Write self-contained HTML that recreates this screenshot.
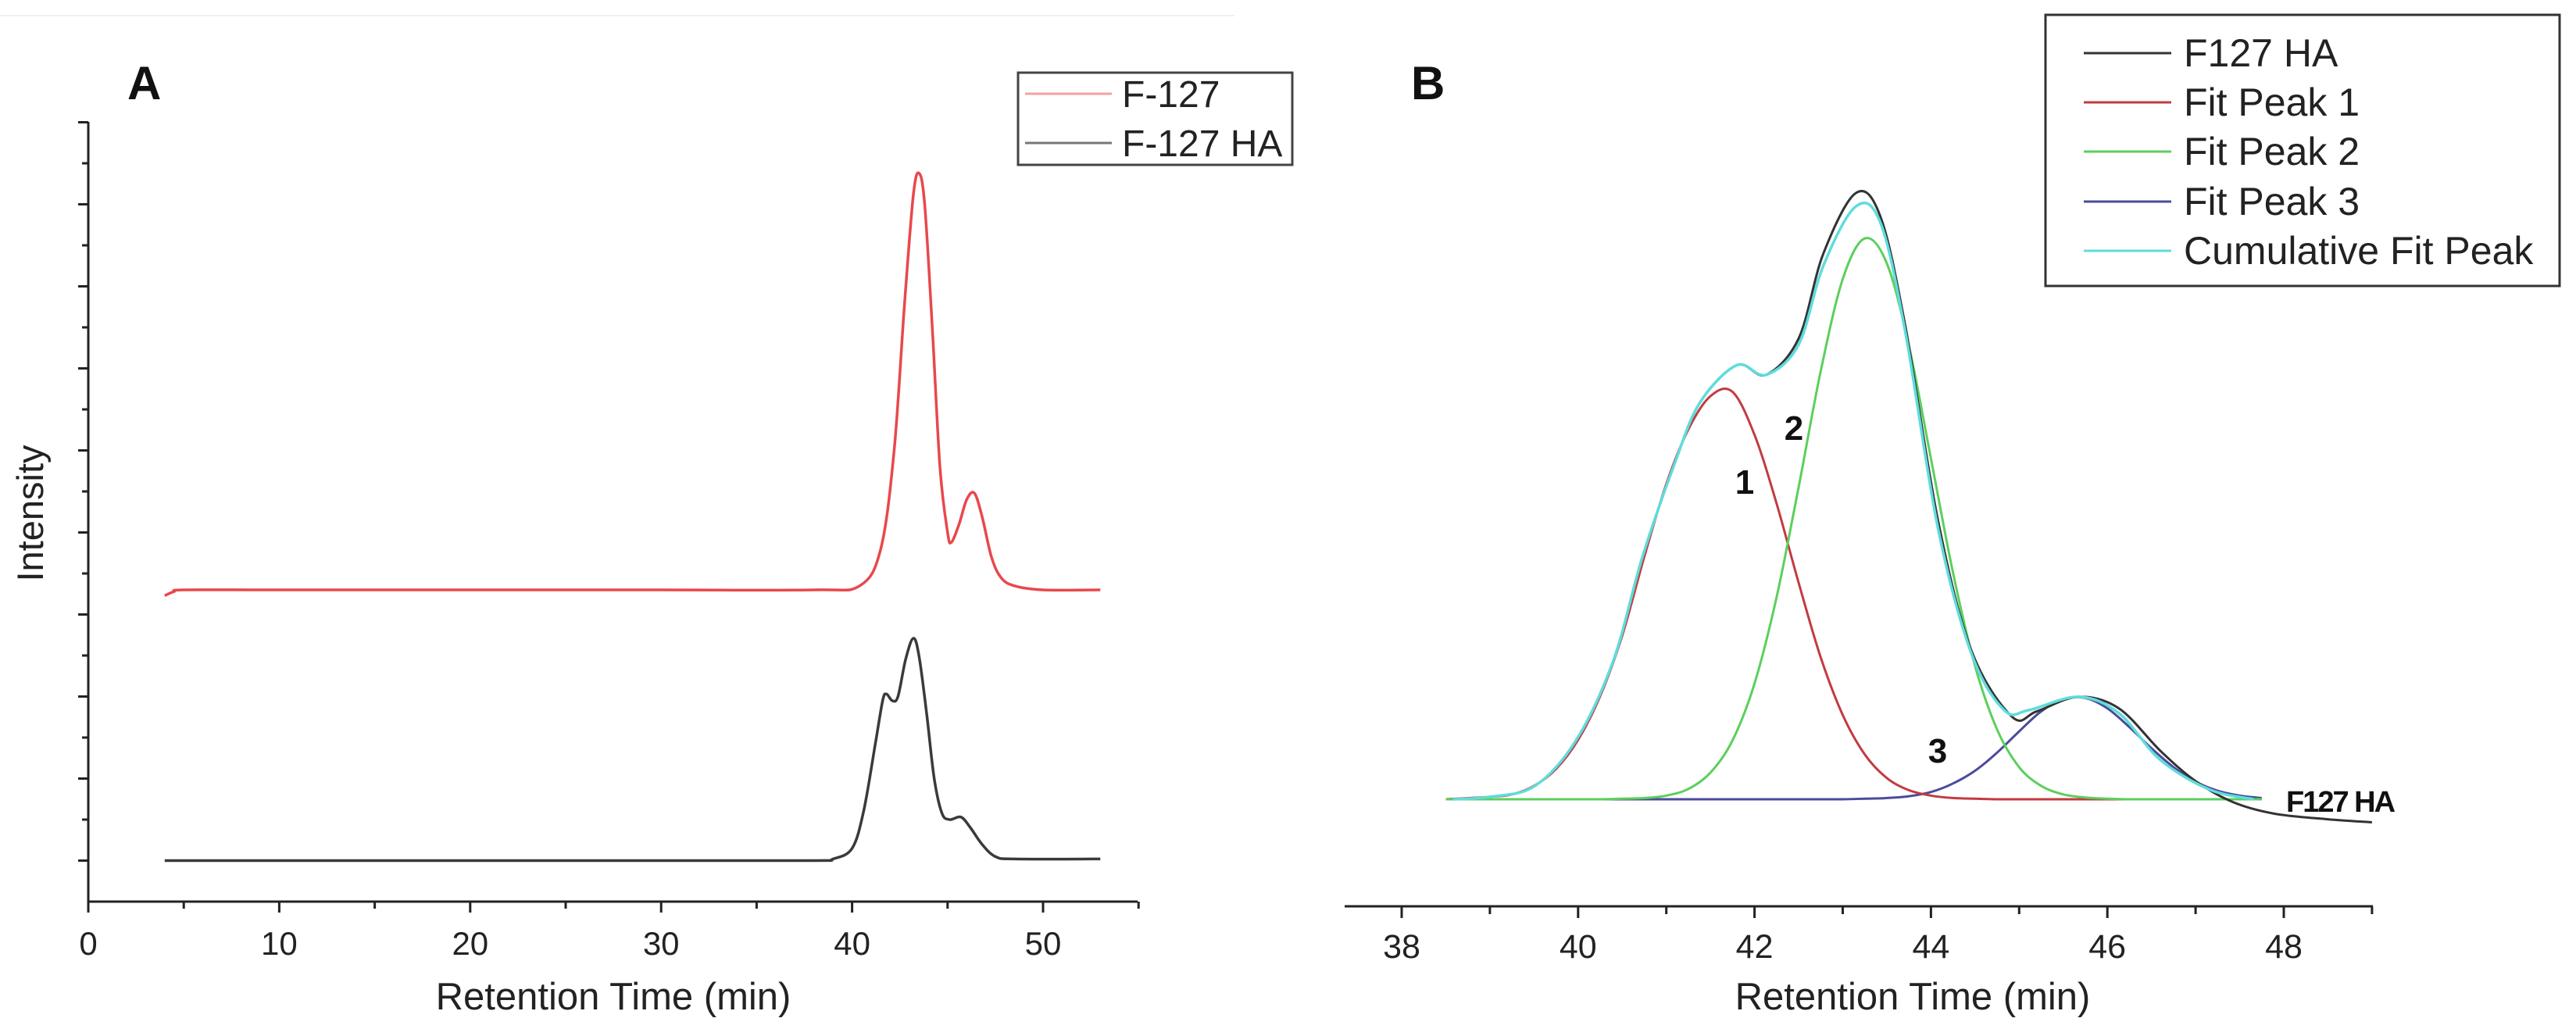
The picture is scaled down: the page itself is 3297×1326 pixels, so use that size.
<!DOCTYPE html>
<html><head><meta charset="utf-8"><style>
html,body{margin:0;padding:0;background:#fff;}
svg{display:block;font-family:"Liberation Sans",Arial,sans-serif;}
</style></head><body>
<svg id="fig" width="3297" height="1326" viewBox="0 0 3297 1326" xmlns="http://www.w3.org/2000/svg">
<rect x="0" y="0" width="3297" height="1326" fill="#fff"/>
<line x1="0" y1="20" x2="1580" y2="20" stroke="#f0f0f0" stroke-width="2"/>
<g id="panelA"></g>
<g id="panelB"></g>
</svg>
<script>
// ---------- Panel A data ----------
const aXTicks = [0, 10, 20, 30, 40, 50];
const aF127X = [4, 4.5, 5, 10, 20, 30, 38, 40.4, 41.5, 42.2, 42.75, 43.2, 43.5, 43.8, 44.2, 44.6, 45.0, 45.2, 45.6, 46.0, 46.4, 46.8, 47.3, 47.8, 48.5, 50, 53];
const aF127Y = [3.73, 3.78, 3.8, 3.8, 3.8, 3.8, 3.8, 3.85, 4.3, 5.5, 7.3, 8.6, 8.88, 8.5, 7.0, 5.3, 4.5, 4.38, 4.6, 4.9, 4.98, 4.7, 4.2, 3.95, 3.85, 3.8, 3.8];
const aHAX = [4, 10, 20, 30, 38, 39, 40, 40.6, 41.2, 41.6, 41.8, 42.1, 42.4, 42.8, 43.2, 43.5, 43.9, 44.3, 44.7, 45.1, 45.7, 46.2, 46.8, 47.5, 48.5, 53];
const aHAY = [0.5, 0.5, 0.5, 0.5, 0.5, 0.52, 0.65, 1.1, 1.9, 2.45, 2.53, 2.45, 2.5, 2.95, 3.21, 3.0, 2.3, 1.5, 1.08, 1.0, 1.03, 0.9, 0.7, 0.55, 0.52, 0.52];

// ---------- Panel B data ----------
const bXTicks = [38, 40, 42, 44, 46, 48];
const bFitX = [38.5, 39, 39.25, 39.5, 39.75, 40, 40.25, 40.5, 40.75, 41, 41.25, 41.5, 41.75, 42, 42.25, 42.5, 42.75, 43, 43.25, 43.5, 43.75, 44, 44.25, 44.5, 44.75, 45, 45.25, 45.5, 45.75, 46, 46.25, 46.5, 46.75, 47, 47.25, 47.5, 47.75];
const bPeak1 = [0, 0.004, 0.008, 0.022, 0.05, 0.098, 0.17, 0.27, 0.40, 0.52, 0.61, 0.665, 0.672, 0.601, 0.488, 0.357, 0.234, 0.139, 0.074, 0.035, 0.015, 0.006, 0.002, 0.001, 0, 0, 0, 0, 0, 0, 0, 0, 0, 0, 0, 0, 0];
const bPeak2 = [0, 0, 0, 0, 0, 0, 0, 0.001, 0.002, 0.006, 0.017, 0.044, 0.097, 0.191, 0.333, 0.515, 0.706, 0.858, 0.925, 0.884, 0.748, 0.562, 0.374, 0.22, 0.115, 0.053, 0.022, 0.008, 0.003, 0.001, 0, 0, 0, 0, 0, 0, 0];
const bPeak3 = [0, 0, 0, 0, 0, 0, 0, 0, 0, 0, 0, 0, 0, 0, 0, 0, 0, 0, 0.001, 0.002, 0.005, 0.012, 0.026, 0.047, 0.077, 0.112, 0.145, 0.165, 0.167, 0.15, 0.119, 0.084, 0.053, 0.029, 0.014, 0.006, 0.002];
const bCumX = [38.58, 39.0, 39.51, 39.98, 40.4, 40.73, 41.1, 41.38, 41.8, 42.13, 42.5, 42.78, 43.15, 43.43, 43.71, 44.08, 44.46, 44.83, 45.11, 45.67, 46.13, 46.6, 47.16, 47.66];
const bCumY = [0, 0.004, 0.022, 0.098, 0.229, 0.40, 0.556, 0.654, 0.716, 0.70, 0.75, 0.88, 0.978, 0.95, 0.77, 0.447, 0.24, 0.147, 0.147, 0.169, 0.142, 0.065, 0.016, 0];
const bHAX = [38.58, 39.0, 39.51, 39.98, 40.4, 40.73, 41.1, 41.38, 41.8, 42.13, 42.5, 42.78, 43.15, 43.43, 43.71, 44.08, 44.46, 44.92, 45.2, 45.67, 46.13, 46.6, 47.0, 47.43, 47.9, 48.5, 49.0];
const bHAY = [0, 0.004, 0.022, 0.098, 0.229, 0.40, 0.556, 0.654, 0.716, 0.70, 0.76, 0.9, 1.0, 0.96, 0.78, 0.46, 0.245, 0.136, 0.145, 0.169, 0.15, 0.08, 0.03, -0.005, -0.024, -0.033, -0.038];

const NS = "http://www.w3.org/2000/svg";
function mk(parent, tag, attrs, text) {
  const e = document.createElementNS(NS, tag);
  for (const k in attrs) e.setAttribute(k, attrs[k]);
  if (text !== undefined) e.textContent = text;
  parent.appendChild(e);
  return e;
}
function smoothPath(pts) {
  let d = "M" + pts[0][0].toFixed(1) + "," + pts[0][1].toFixed(1);
  for (let i = 0; i < pts.length - 1; i++) {
    const p0 = pts[i - 1] || pts[i], p1 = pts[i], p2 = pts[i + 1], p3 = pts[i + 2] || p2;
    const c1x = p1[0] + (p2[0] - p0[0]) / 6, c1y = p1[1] + (p2[1] - p0[1]) / 6;
    const c2x = p2[0] - (p3[0] - p1[0]) / 6, c2y = p2[1] - (p3[1] - p1[1]) / 6;
    d += " C" + c1x.toFixed(1) + "," + c1y.toFixed(1) + " " + c2x.toFixed(1) + "," + c2y.toFixed(1) + " " + p2[0].toFixed(1) + "," + p2[1].toFixed(1);
  }
  return d;
}

// ---------- Panel A ----------
const A = document.getElementById("panelA");
const axA = v => 113 + v * 24.44;
const ayA = v => 1154 - v * 105;
let el;
el = mk(A, "text", {x: 163, y: 127, "font-size": 60, "font-weight": "bold", fill: "#111"}, "A");


el = mk(A, "line", {x1: 113, y1: 156, x2: 113, y2: 1155, stroke: "#222", "stroke-width": 3});


el = mk(A, "line", {x1: 112, y1: 1154, x2: 1456, y2: 1154, stroke: "#222", "stroke-width": 3});


for (let k = 0; k < 10; k++) {
  el = mk(A, "line", {x1: 100, y1: ayA(k + 0.5), x2: 113, y2: ayA(k + 0.5), stroke: "#222", "stroke-width": 3});
  
  
  if (k < 9) {
    el = mk(A, "line", {x1: 105, y1: ayA(k + 1), x2: 113, y2: ayA(k + 1), stroke: "#222", "stroke-width": 3});
    
    
  }
}
for (let v = 5; v <= 55; v += 10) {
  el = mk(A, "line", {x1: axA(v), y1: 1154, x2: axA(v), y2: 1163, stroke: "#222", "stroke-width": 3});
  
  
}
aXTicks.forEach(v => {
  el = mk(A, "line", {x1: axA(v), y1: 1154, x2: axA(v), y2: 1168, stroke: "#222", "stroke-width": 3});
  
  
  el = mk(A, "text", {x: axA(v), y: 1222, "font-size": 42, "text-anchor": "middle", fill: "#222"}, String(v));
  
  
});
el = mk(A, "text", {x: 785, y: 1292, "font-size": 49, "text-anchor": "middle", fill: "#222"}, "Retention Time (min)");


el = mk(A, "text", {x: 0, y: 0, "font-size": 47, "text-anchor": "middle", fill: "#222", transform: "translate(55,657) rotate(-90)"}, "Intensity");


el = mk(A, "path", {d: smoothPath(aF127X.map((x, i) => [axA(x), ayA(aF127Y[i])])), fill: "none", stroke: "#e8484c", "stroke-width": 3.5});


el = mk(A, "path", {d: smoothPath(aHAX.map((x, i) => [axA(x), ayA(aHAY[i])])), fill: "none", stroke: "#3a3a3a", "stroke-width": 3.5});


// legend A
const legA = mk(A, "g", {});


el = mk(legA, "rect", {x: 1303, y: 93, width: 351, height: 118, fill: "#fff", stroke: "#444", "stroke-width": 3});


[["F-127", "#f4a0a4", 120], ["F-127 HA", "#777", 183]].forEach(([t, c, y]) => {
  el = mk(legA, "line", {x1: 1312, y1: y, x2: 1423, y2: y, stroke: c, "stroke-width": 3});
  
  
  el = mk(legA, "text", {x: 1436, y: y + 17, "font-size": 48, fill: "#222"}, t);
  
  
});

// ---------- Panel B ----------
const B = document.getElementById("panelB");
const axB = v => 1794 + (v - 38) * 112.9;
const ayB = v => 1023 - v * 776;
el = mk(B, "text", {x: 1806, y: 127, "font-size": 60, "font-weight": "bold", fill: "#111"}, "B");


el = mk(B, "line", {x1: 1721, y1: 1160, x2: 3037, y2: 1160, stroke: "#222", "stroke-width": 3});


for (let v = 39; v <= 49; v += 2) {
  el = mk(B, "line", {x1: axB(v), y1: 1160, x2: axB(v), y2: 1170, stroke: "#222", "stroke-width": 3});
  
  
}
bXTicks.forEach(v => {
  el = mk(B, "line", {x1: axB(v), y1: 1160, x2: axB(v), y2: 1175, stroke: "#222", "stroke-width": 3});
  
  
  el = mk(B, "text", {x: axB(v), y: 1226, "font-size": 43, "text-anchor": "middle", fill: "#222"}, String(v));
  
  
});
el = mk(B, "text", {x: 2448, y: 1292, "font-size": 49, "text-anchor": "middle", fill: "#222"}, "Retention Time (min)");


const fits = [[bPeak3, "#4b4b9c", "fit-peak-3-line"], [bPeak1, "#c23b40", "fit-peak-1-line"], [bPeak2, "#5ccf5c", "fit-peak-2-line"]];
fits.forEach(([ys, c, n]) => {
  el = mk(B, "path", {d: smoothPath(bFitX.map((x, i) => [axB(x), ayB(ys[i])])), fill: "none", stroke: c, "stroke-width": 3});
  
  
});
el = mk(B, "path", {d: smoothPath(bHAX.map((x, i) => [axB(x), ayB(bHAY[i])])), fill: "none", stroke: "#333", "stroke-width": 3});


el = mk(B, "path", {d: smoothPath(bCumX.map((x, i) => [axB(x), ayB(bCumY[i])])), fill: "none", stroke: "#5fdcdc", "stroke-width": 3.5});


[["1", 2233, 632], ["2", 2296, 563], ["3", 2480, 976]].forEach(([t, x, y]) => {
  el = mk(B, "text", {x: x, y: y, "font-size": 44, "font-weight": "bold", "text-anchor": "middle", fill: "#111"}, t);
  
  
});
el = mk(B, "text", {x: 2926, y: 1039, "font-size": 38, "font-weight": "bold", "letter-spacing": "-2", fill: "#111"}, "F127 HA");


const legB = mk(B, "g", {});


el = mk(legB, "rect", {x: 2618, y: 19, width: 658, height: 347, fill: "#fff", stroke: "#333", "stroke-width": 3});


[["F127 HA", "#333", 68], ["Fit Peak 1", "#c23b40", 131], ["Fit Peak 2", "#5ccf5c", 194], ["Fit Peak 3", "#4b4b9c", 258], ["Cumulative Fit Peak", "#5fdcdc", 321]].forEach(([t, c, y]) => {
  el = mk(legB, "line", {x1: 2667, y1: y, x2: 2779, y2: y, stroke: c, "stroke-width": 3});
  
  
  el = mk(legB, "text", {x: 2795, y: y + 17, "font-size": 50, fill: "#222"}, t);
  
  
});
</script>
</body></html>
